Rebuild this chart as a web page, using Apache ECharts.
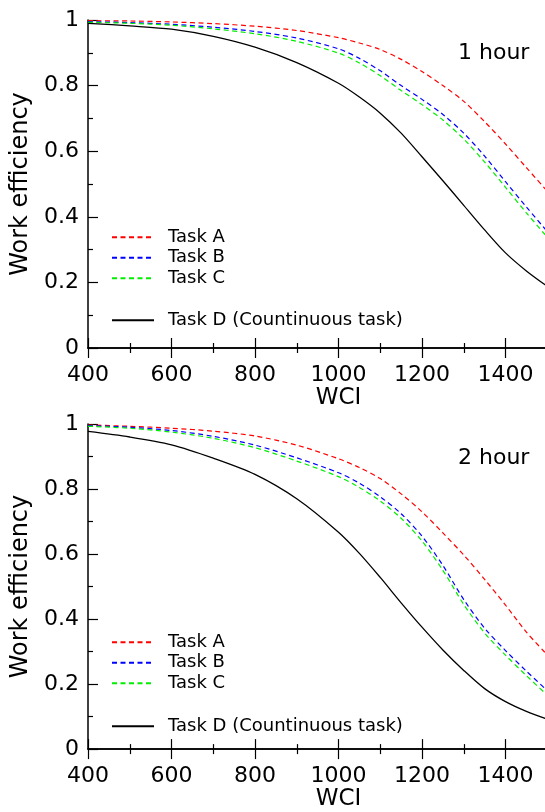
<!DOCTYPE html>
<html>
<head>
<meta charset="utf-8">
<script src="https://cdn.jsdelivr.net/npm/echarts@6/dist/echarts.min.js"></script>
<style>
html,body{margin:0;padding:0;overflow:hidden;background:#fff;}
#chart{width:620px;height:812px;}
</style>
</head>
<body>
<div id="chart"></div>
<script>
// WCI sample points
const wci = [400,500,600,700,800,900,1000,1050,1100,1150,1200,1250,1300,1350,1400,1450,1500];
// 1 hour panel
const hour1TaskA = [0.998,0.997,0.994,0.989,0.981,0.968,0.946,0.930,0.910,0.880,0.843,0.800,0.752,0.690,0.622,0.550,0.478];
const hour1TaskB = [0.995,0.992,0.987,0.978,0.965,0.945,0.912,0.883,0.845,0.800,0.758,0.712,0.655,0.585,0.507,0.430,0.355];
const hour1TaskC = [0.993,0.990,0.984,0.973,0.958,0.935,0.899,0.869,0.830,0.785,0.742,0.695,0.637,0.567,0.490,0.412,0.338];
const hour1TaskD = [0.990,0.982,0.972,0.950,0.917,0.870,0.807,0.765,0.716,0.655,0.583,0.510,0.435,0.360,0.290,0.235,0.188];
// 2 hour panel
const hour2TaskA = [0.997,0.993,0.987,0.978,0.963,0.935,0.893,0.866,0.832,0.785,0.730,0.665,0.597,0.522,0.443,0.360,0.290];
const hour2TaskB = [0.995,0.990,0.980,0.962,0.935,0.896,0.850,0.818,0.776,0.724,0.655,0.565,0.460,0.372,0.303,0.240,0.180];
const hour2TaskC = [0.993,0.987,0.975,0.956,0.927,0.886,0.838,0.805,0.763,0.710,0.640,0.550,0.445,0.357,0.289,0.226,0.166];
const hour2TaskD = [0.977,0.960,0.936,0.895,0.845,0.770,0.667,0.602,0.528,0.450,0.375,0.305,0.242,0.186,0.146,0.116,0.092];

const seriesNames = ['Task A','Task B','Task C','Task D (Countinuous task)'];
const panelTitles = ['1 hour','2 hour'];
const xLabelTicks = [400,600,800,1000,1200,1400,1600];
const yLabelTicks = [0,0.2,0.4,0.6,0.8,1];

const FONT = 'DejaVu Sans';
const colors = ['#ff0000','#0000ff','#00ee00','#000000'];

function pairs(arr){ return wci.map((x,i)=>[x,arr[i]]); }

const chart = echarts.init(document.getElementById('chart'), null, {renderer:'canvas'});

const grids = [
  {left:88, top:20, width:506, height:328},
  {left:88, top:424, width:506, height:328}
];

function xAx(gi, pos, labels){
  return {
    type:'value', gridIndex:gi, position:pos, min:xLabelTicks[0], max:xLabelTicks[xLabelTicks.length-1], interval:200,
    name: labels ? 'WCI' : '', nameLocation:'middle', nameGap:38,
    nameTextStyle:{fontFamily:FONT, fontSize:23, color:'#000'},
    axisLine:{show:true, lineStyle:{color:'#000', width:1.5}},
    axisTick:{show:true, inside:true, length:10, lineStyle:{color:'#000', width:1.2}},
    minorTick:{show:true, splitNumber:2, length:5, lineStyle:{color:'#000', width:1.2}},
    splitLine:{show:false},
    axisLabel:{show:labels, margin:16, fontFamily:FONT, fontSize:22, color:'#000',
      formatter:function(v){ return String(v); }}
  };
}
function yAx(gi, pos, labels){
  return {
    type:'value', gridIndex:gi, position:pos, min:yLabelTicks[0], max:yLabelTicks[yLabelTicks.length-1], interval:0.2,
    name: labels ? 'Work efficiency' : '', nameLocation:'middle', nameGap:44,
    nameTextStyle:{fontFamily:FONT, fontSize:24, color:'#000'},
    axisLine:{show:true, lineStyle:{color:'#000', width:1.5}},
    axisTick:{show:true, inside:true, length:10, lineStyle:{color:'#000', width:1.2}},
    minorTick:{show:true, splitNumber:2, length:5, lineStyle:{color:'#000', width:1.2}},
    splitLine:{show:false},
    axisLabel:{show:labels, margin:9, fontFamily:FONT, fontSize:22, color:'#000',
      formatter:function(v){ return String(Math.round(v*10)/10); }}
  };
}

const xAxes = [xAx(0,'bottom',true), xAx(0,'top',false), xAx(1,'bottom',true), xAx(1,'top',false)];
const yAxes = [yAx(0,'left',true), yAx(0,'right',false), yAx(1,'left',true), yAx(1,'right',false)];

function mkSeries(panel, data){
  return data.map((arr,i)=>({
    type:'line', name:seriesNames[i], xAxisIndex:panel*2, yAxisIndex:panel*2,
    data:pairs(arr), smooth:0.3, symbol:'none', showSymbol:false,
    lineStyle:{color:colors[i], width: i===3 ? 1.3 : 1.2, type: i===3 ? 'solid' : [5,3.5]},
    itemStyle:{color:colors[i]},
    z: 3
  }));
}

const series = [].concat(
  mkSeries(0,[hour1TaskA,hour1TaskB,hour1TaskC,hour1TaskD]),
  mkSeries(1,[hour2TaskA,hour2TaskB,hour2TaskC,hour2TaskD])
);

function legendBlock(top, names){
  return {
    show:true, orient:'vertical', left:111, top:top, padding:0, itemWidth:42, itemHeight:14, itemGap:0,
    selectedMode:false,
    data:names,
    itemStyle:{opacity:0},
    textStyle:{fontFamily:FONT, fontSize:18, color:'#000', lineHeight:20.5, padding:[0,0,0,9]}
  };
}
const legends = [
  legendBlock(227, seriesNames.slice(0,3)),
  legendBlock(310, seriesNames.slice(3)),
  legendBlock(632, seriesNames.slice(0,3)),
  legendBlock(716, seriesNames.slice(3))
];

const titles = panelTitles.map((t,i)=>({
  text:t, left:458, top: i===0 ? 42 : 447, padding:0,
  textStyle:{fontFamily:FONT, fontSize:22, fontWeight:'normal', color:'#000'}
}));

chart.setOption({
  animation:false,
  backgroundColor:'#fff',
  title:titles,
  grid:grids,
  xAxis:xAxes,
  yAxis:yAxes,
  legend:legends,
  series:series
});
</script>
</body>
</html>
